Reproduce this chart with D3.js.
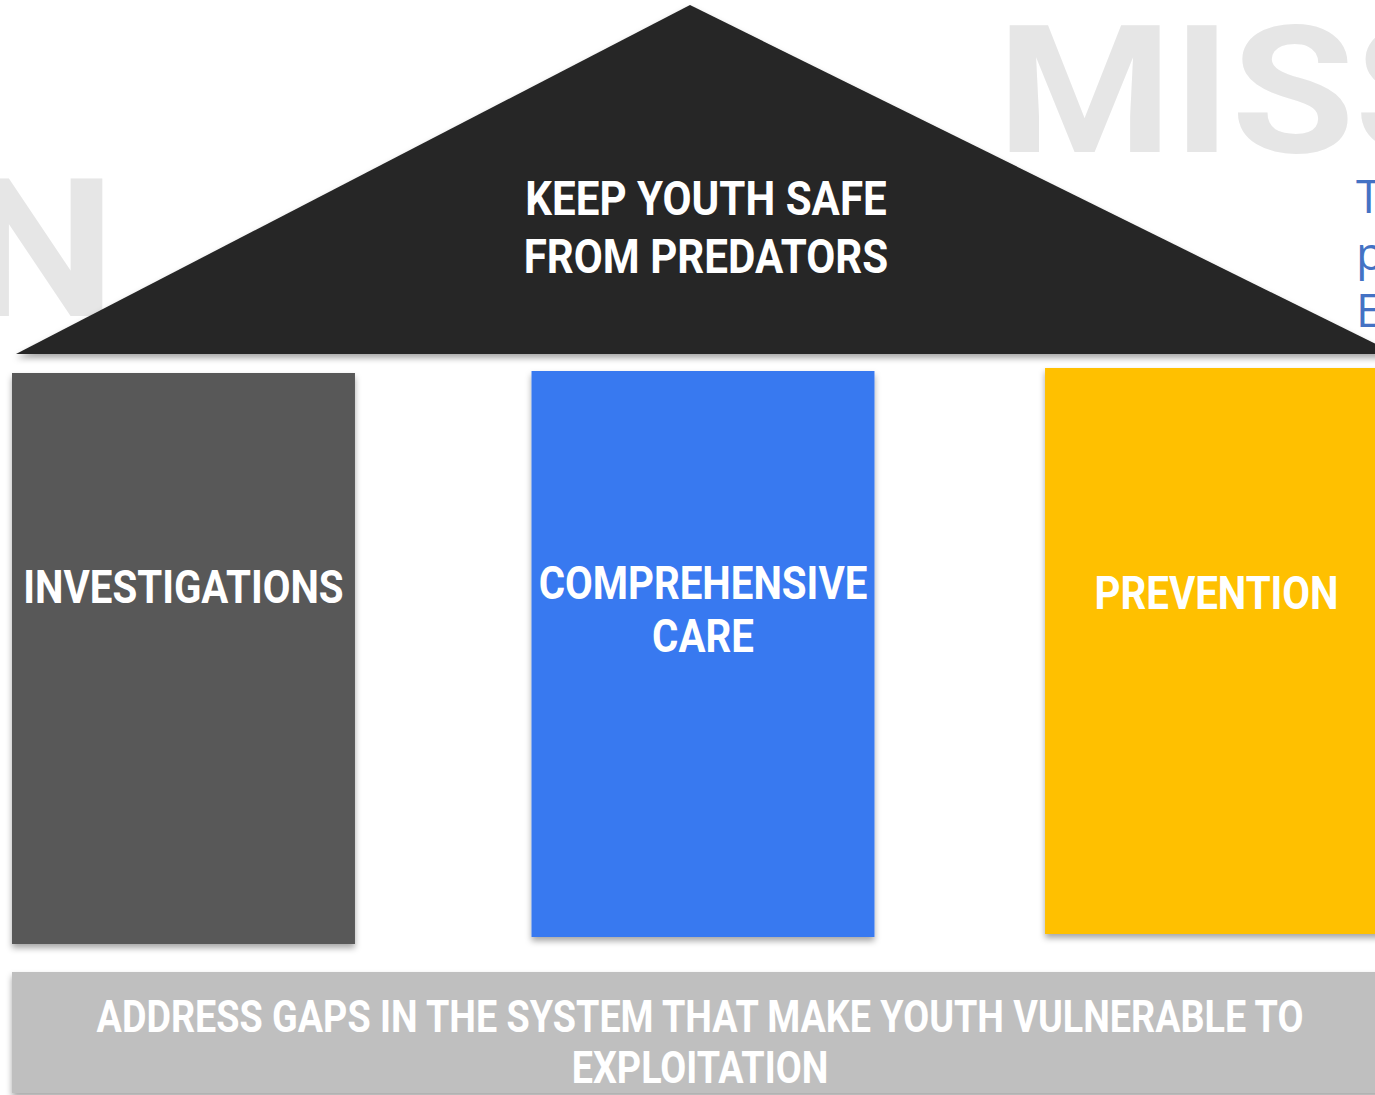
<!DOCTYPE html>
<html>
<head>
<meta charset="utf-8">
<script src="https://cdn.jsdelivr.net/npm/d3@7"></script>
<style>
  html, body { margin: 0; padding: 0; background: #fff; overflow: hidden; }
  text { font-family: Roboto, "Noto Sans", sans-serif; }
</style>
</head>
<body>
<div id="house"></div>
<script>
// contenu du schema
const roofLines = ["KEEP YOUTH SAFE", "FROM PREDATORS"];
const pillars = ["INVESTIGATIONS", "COMPREHENSIVE CARE", "PREVENTION"];
const pillarLines = [["INVESTIGATIONS"], ["COMPREHENSIVE", "CARE"], ["PREVENTION"]];
const foundationLines = ["ADDRESS GAPS IN THE SYSTEM THAT MAKE YOUTH VULNERABLE TO", "EXPLOITATION"];
const backWords = ["VISION", "MISSION"];
const missionLines = ["To", "protect", "End"];

const width = 1375, height = 1095;

const svg = d3.select("#house")
    .append("svg")
    .attr("width", width)
    .attr("height", height);

const defs = svg.append("defs");
const shadow = defs.append("filter")
    .attr("id", "shadow")
    .attr("x", "-10%").attr("y", "-10%")
    .attr("width", "120%").attr("height", "130%");
shadow.append("feDropShadow")
    .attr("dx", 0).attr("dy", 4)
    .attr("stdDeviation", 3)
    .attr("flood-color", "#000")
    .attr("flood-opacity", 0.35);

// grands mots gris en fond (un peu élargis)
svg.append("text")
    .attr("transform", "translate(116, 316) scale(1.12, 1)")
    .attr("text-anchor", "end")
    .style("font-size", "193px").style("font-weight", 700)
    .attr("fill", "#e6e6e6")
    .text(backWords[0]);

svg.append("text")
    .attr("transform", "translate(997, 152) scale(1.12, 1)")
    .style("font-size", "179px").style("font-weight", 700)
    .attr("fill", "#e6e6e6")
    .text(backWords[1]);

svg.append("g")
    .selectAll("text")
    .data(missionLines)
    .join("text")
    .attr("x", 1356)
    .attr("y", (d, i) => 213 + i * 57)
    .style("font-family", "'Open Sans', sans-serif")
    .style("font-size", "46px")
    .attr("fill", "#4472c4")
    .text(d => d);

// toit
const roof = d3.line();
svg.append("path")
    .attr("d", roof([[690, 5], [16, 354], [1396, 354]]) + "Z")
    .attr("fill", "#262626")
    .attr("filter", "url(#shadow)");

// pas de Roboto Condensed -> on tasse en x
function condensedText(g, lines, cx, y0, step, size, color, condense) {
    g.selectAll("text")
        .data(lines)
        .join("text")
        .attr("transform", (d, i) => `translate(${cx}, ${y0 + i * step}) scale(${condense}, 1)`)
        .attr("text-anchor", "middle")
        .style("font-size", size + "px")
        .style("font-weight", 700)
        .attr("fill", color)
        .text(d => d);
}

condensedText(svg.append("g"), roofLines, 706, 215, 58, 49, "#fff", 0.86);

// piliers
const x = d3.scaleBand()
    .domain(pillars)
    .range([12, 1388])
    .paddingInner(0.336)
    .paddingOuter(0)
    .align(0);

const pillarShift = [0, 3, 0];
const pillarTop = [373, 371, 368];
const pillarBottom = [944, 937, 934];
const pillarColor = ["#595959", "#3879f0", "#ffc000"];
const textBase = [603, 599, 609];

const pg = svg.append("g")
    .selectAll("g")
    .data(pillars)
    .join("g");

pg.append("rect")
    .attr("x", (d, i) => x(d) + pillarShift[i])
    .attr("y", (d, i) => pillarTop[i])
    .attr("width", x.bandwidth())
    .attr("height", (d, i) => pillarBottom[i] - pillarTop[i])
    .attr("fill", (d, i) => pillarColor[i])
    .attr("filter", "url(#shadow)");

pg.each(function (d, i) {
    condensedText(d3.select(this).append("g"), pillarLines[i],
        x(d) + pillarShift[i] + x.bandwidth() / 2, textBase[i], 53, 46, "#fff", 0.875);
});

// fondation
svg.append("rect")
    .attr("x", 12).attr("y", 972)
    .attr("width", width).attr("height", 121)
    .attr("fill", "#bfbfbf")
    .attr("filter", "url(#shadow)");

condensedText(svg.append("g"), foundationLines, 700, 1032, 51, 44, "#fff", 0.857);
</script>
</body>
</html>
